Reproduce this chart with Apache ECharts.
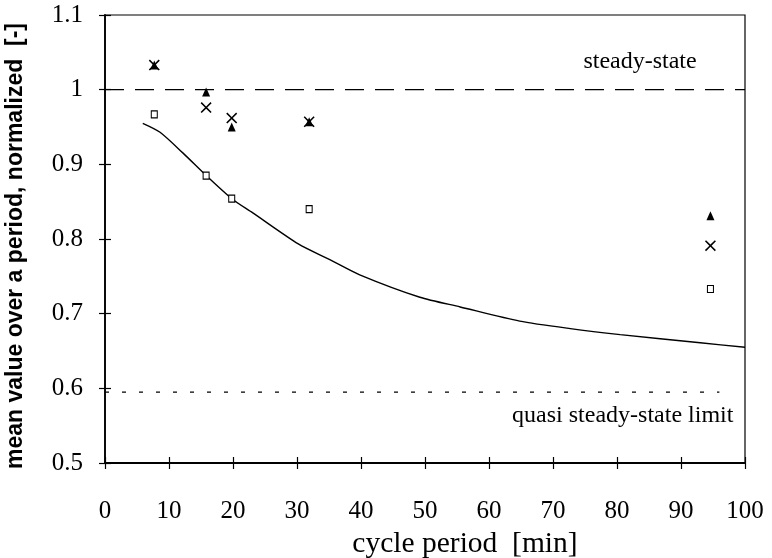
<!DOCTYPE html>
<html>
<head>
<meta charset="utf-8">
<script src="https://cdn.jsdelivr.net/npm/echarts@6/dist/echarts.min.js"></script>
<style>
  html, body { margin: 0; padding: 0; background: #fff; }
  #chart { width: 772px; height: 558px; }
</style>
</head>
<body>
<div id="chart"></div>
<script>
// cycle periods of the measured runs [min]
const periods = [7.7, 15.8, 19.8, 31.9, 94.6];
// normalized period means for the three measured quantities
const triangleValues = [1.033, 0.997, 0.950, 0.957, 0.831];
const crossValues = [1.033, 0.976, 0.962, 0.957, 0.791];
const squareValues = [0.967, 0.885, 0.854, 0.840, 0.733];
// model curve: cycle period vs normalized mean
const curvePeriods = [5.9, 8.6, 12.2, 15.8, 19.8, 23.1, 30.2, 35.2, 39.8, 49.2, 55.5, 64.8, 72.7, 80.5, 93.0, 100];
const curveValues = [0.955, 0.943, 0.915, 0.885, 0.854, 0.835, 0.7935, 0.772, 0.752, 0.722, 0.709, 0.690, 0.680, 0.672, 0.661, 0.655];
// reference levels
const steadyState = 1.0;
const quasiLimit = 0.595;
const quasiLimitEnd = 96;
// axis ticks
const xTicks = [0, 10, 20, 30, 40, 50, 60, 70, 80, 90, 100];
const yTickLabels = ['0.5', '0.6', '0.7', '0.8', '0.9', '1', '1.1'];

const serif = 'Liberation Serif';
const pair = (xs, ys) => xs.map((x, i) => [x, ys[i]]);

const chart = echarts.init(document.getElementById('chart'), null, { renderer: 'canvas' });

const tickOut = { show: true, inside: false, length: 6, lineStyle: { color: '#000', width: 1.2 } };
const tickIn = { show: true, inside: true, length: 6, lineStyle: { color: '#000', width: 1.2 } };

const xBase = { type: 'value', min: xTicks[0], max: xTicks[xTicks.length - 1], interval: 10, splitLine: { show: false } };
const yBase = { type: 'value', min: 0.5, max: 1.1, interval: 0.1, splitLine: { show: false } };

const option = {
  animation: false,
  grid: {
    left: 105, right: 27, top: 15, bottom: 95,
    outerBoundsMode: 'none', containLabel: false,
    show: true, borderColor: '#000', borderWidth: 1.2, backgroundColor: 'transparent'
  },
  xAxis: [
    Object.assign({}, xBase, {
      position: 'bottom',
      axisLine: { lineStyle: { color: '#000', width: 1.8 } },
      axisTick: tickOut,
      axisLabel: { color: '#000', fontFamily: serif, fontSize: 25, margin: 36 },
      name: 'cycle period  [min]',
      nameLocation: 'middle',
      nameGap: 62,
      nameTextStyle: { color: '#000', fontFamily: serif, fontSize: 29.5, padding: [0, 0, 0, 80] }
    }),
    Object.assign({}, xBase, {
      position: 'bottom',
      axisLine: { show: false },
      axisTick: tickIn,
      axisLabel: { show: false }
    })
  ],
  yAxis: [
    Object.assign({}, yBase, {
      position: 'left',
      axisLine: { lineStyle: { color: '#000', width: 1.8 } },
      axisTick: tickOut,
      axisLabel: {
        color: '#000', fontFamily: serif, fontSize: 25, margin: 22,
        formatter: v => yTickLabels[Math.round((v - 0.5) * 10)]
      },
      name: 'mean value over a period, normalized  [-]',
      nameLocation: 'middle',
      nameGap: 78,
      nameTextStyle: { color: '#000', fontFamily: 'Liberation Sans', fontWeight: 'bold', fontSize: 23, padding: [0, 14, 0, 0] }
    }),
    Object.assign({}, yBase, {
      position: 'left',
      axisLine: { show: false },
      axisTick: tickIn,
      axisLabel: { show: false }
    })
  ],
  series: [
    {
      type: 'line',
      data: [[xTicks[0], steadyState], [xTicks[xTicks.length - 1], steadyState]],
      showSymbol: false,
      lineStyle: { color: '#000', width: 1.1, type: [19, 11] },
      z: 1
    },
    {
      type: 'line',
      data: [[xTicks[0], quasiLimit], [quasiLimitEnd, quasiLimit]],
      showSymbol: false,
      lineStyle: { color: '#000', width: 1.2, type: [4, 13] },
      z: 1
    },
    {
      type: 'line',
      data: pair(curvePeriods, curveValues),
      showSymbol: false,
      smooth: 0.25,
      lineStyle: { color: '#000', width: 1.4 },
      z: 2
    },
    {
      type: 'scatter',
      data: pair(periods, squareValues),
      symbol: 'rect',
      symbolSize: [6, 7],
      itemStyle: { color: '#fff', borderColor: '#000', borderWidth: 1.1, opacity: 1 },
      z: 3
    },
    {
      type: 'scatter',
      data: pair(periods, triangleValues),
      symbol: 'triangle',
      symbolSize: [8, 9],
      itemStyle: { color: '#000', opacity: 1 },
      z: 4
    },
    {
      type: 'scatter',
      data: pair(periods, crossValues),
      symbol: 'path://M0,1L1,0L5,4L9,0L10,1L6,5L10,9L9,10L5,6L1,10L0,9L4,5Z',
      symbolSize: 11,
      itemStyle: { color: '#000', opacity: 1 },
      z: 5
    }
  ]
};

chart.setOption(option);

// annotation texts anchored in data coordinates
const notes = [
  { text: 'steady-state', at: [83.6, 1.037] },
  { text: 'quasi steady-state limit', at: [80.9, 0.563] }
];
chart.setOption({
  graphic: notes.map(n => {
    const p = chart.convertToPixel({ gridIndex: 0 }, n.at);
    return {
      type: 'text',
      x: p[0], y: p[1],
      style: { text: n.text, fill: '#000', font: '24px "Liberation Serif"', align: 'center', verticalAlign: 'middle' },
      z: 10
    };
  })
});
</script>
</body>
</html>
